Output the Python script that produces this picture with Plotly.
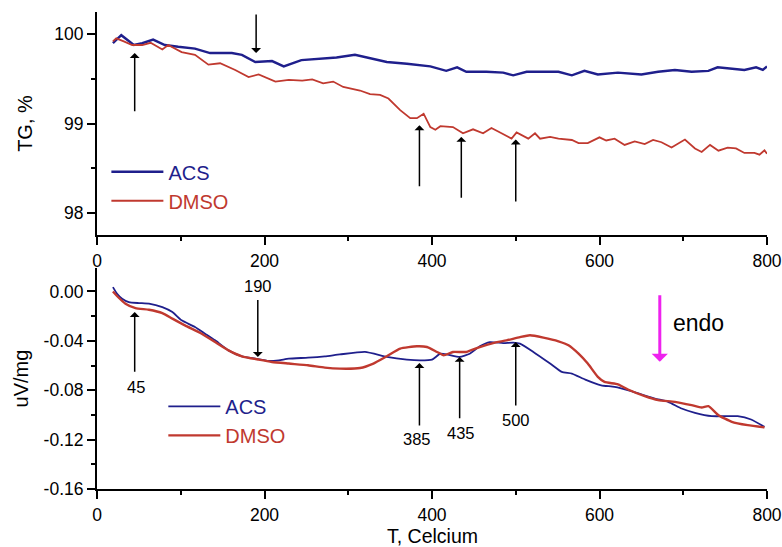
import plotly.graph_objects as go

# ---------------- data ----------------
# Top panel: TG, %
T_TG_ACS = [19, 29, 44, 54, 67, 81, 97, 117, 135, 161, 173, 189, 209, 223, 244, 268,
            286, 308, 326, 346, 370, 398, 417, 430, 441, 465, 485, 497, 513, 534,
            551, 567, 582, 598, 622, 650, 670, 690, 710, 730, 741, 773, 787, 795, 800]
TG_ACS = [99.90, 99.99, 99.88, 99.90, 99.94, 99.88, 99.86, 99.84, 99.79, 99.79, 99.77, 99.69, 99.70, 99.64, 99.71, 99.73,
          99.74, 99.77, 99.73, 99.69, 99.67, 99.64, 99.59, 99.63, 99.58, 99.58, 99.57, 99.54, 99.58, 99.58,
          99.58, 99.54, 99.59, 99.55, 99.57, 99.55, 99.58, 99.60, 99.58, 99.59, 99.63, 99.60, 99.63, 99.60, 99.64]

T_TG_DMSO = [19, 23, 32, 42, 54, 64, 78, 85, 101, 117, 133, 147, 165, 181, 193, 213, 229, 245, 257, 270,
             282, 294, 314, 326, 338, 348, 362, 374, 382, 390, 398, 404, 410, 425, 437, 449, 461, 471, 483,
             495, 501, 515, 523, 529, 541, 551, 567, 575, 586, 600, 608, 618, 630, 642, 654, 664, 674, 686,
             702, 714, 722, 732, 742, 753, 763, 773, 785, 791, 797, 800]
TG_DMSO = [99.92, 99.955, 99.92, 99.88, 99.88, 99.905, 99.83, 99.88, 99.80, 99.77, 99.66, 99.675, 99.60, 99.52, 99.55, 99.47, 99.49, 99.48, 99.495, 99.45,
           99.47, 99.41, 99.37, 99.33, 99.32, 99.28, 99.15, 99.06, 99.06, 99.11, 98.96, 98.93, 98.97, 98.96, 98.89, 98.935, 98.89, 98.95, 98.89,
           98.83, 98.90, 98.83, 98.89, 98.83, 98.85, 98.83, 98.815, 98.78, 98.78, 98.845, 98.81, 98.83, 98.76, 98.80, 98.77, 98.815, 98.79, 98.73,
           98.82, 98.72, 98.68, 98.76, 98.695, 98.73, 98.72, 98.67, 98.67, 98.65, 98.70, 98.66]

# Bottom panel: DTA, uV/mg
T_DTA_ACS = [19, 24, 30, 38, 50, 62, 78, 90, 101, 117, 129, 141, 157, 173, 189, 205, 217, 229, 252, 272,
             290, 320, 346, 370, 386, 400, 410, 419, 433, 445, 457, 469, 485, 497, 505, 521, 541,
             555, 567, 583, 602, 618, 638, 666, 682, 698, 714, 734, 753, 765, 781, 797]
DTA_ACS = [0.0035, -0.0019, -0.0059, -0.0086, -0.0094, -0.0099, -0.0127, -0.0167, -0.0234, -0.0288, -0.0342, -0.0396, -0.0477, -0.0525, -0.0544, -0.0563, -0.0558, -0.0544, -0.0536, -0.0525,
           -0.051, -0.049, -0.053, -0.0552, -0.0558, -0.0552, -0.0504, -0.0512, -0.053, -0.0504, -0.0444, -0.041, -0.0418, -0.0415, -0.0423, -0.049, -0.0584,
           -0.0652, -0.0665, -0.0714, -0.076, -0.0773, -0.0808, -0.0867, -0.0894, -0.0948, -0.0983, -0.101, -0.101, -0.101, -0.1037, -0.1097]

T_DTA_DMSO = [19, 26, 34, 46, 62, 78, 90, 105, 125, 141, 157, 173, 193, 209, 229, 252, 272, 290, 314, 330,
              346, 362, 382, 394, 406, 414, 425, 441, 457, 473, 489, 505, 517, 533, 551, 563, 575, 586,
              598, 606, 622, 634, 654, 670, 690, 710, 722, 730, 742, 758, 777, 797]
DTA_DMSO = [0.0, -0.0051, -0.0099, -0.0135, -0.0148, -0.0175, -0.022, -0.0275, -0.0342, -0.041, -0.0477, -0.0525, -0.0552, -0.0571, -0.0584, -0.0598, -0.0617, -0.0625, -0.062, -0.0584,
            -0.0525, -0.0463, -0.0444, -0.045, -0.049, -0.0517, -0.049, -0.049, -0.045, -0.0418, -0.0396, -0.037, -0.0355, -0.0374, -0.0404, -0.0436, -0.0504, -0.0584,
            -0.0692, -0.0733, -0.0752, -0.0794, -0.0848, -0.088, -0.0894, -0.0921, -0.094, -0.0929, -0.1002, -0.1056, -0.1083, -0.1101]

X_TICKS = [0, 200, 400, 600, 800]
TG_TICKS = [98, 99, 100]
DTA_TICKS = [0.00, -0.04, -0.08, -0.12, -0.16]

# arrow marks (temperature, head y, tail y)
TG_ARROWS = [(45, 99.79, 99.12), (190, 99.79, 100.24), (385, 98.98, 98.28), (435, 98.85, 98.15), (500, 98.82, 98.11)]
DTA_ARROWS = [(45, -0.0167, -0.0663), (192, -0.053, -0.0057), (385, -0.058, -0.1097), (433, -0.053, -0.104), (500, -0.041, -0.0935)]
DTA_LABELS = [("45", 46, -0.0775), ("190", 192, 0.0045), ("385", 382, -0.1196), ("435", 435, -0.1147), ("500", 500, -0.104)]

BLUE = "#1f1f8c"
RED = "#c0392f"
FONT = "Liberation Sans, Arial, sans-serif"

fig = go.Figure()
fig.add_trace(go.Scatter(x=T_TG_ACS, y=TG_ACS, mode="lines", line=dict(color=BLUE, width=2.4),
                         name=f"<span style='color:{BLUE}'>ACS</span>", xaxis="x", yaxis="y", legend="legend"))
fig.add_trace(go.Scatter(x=T_TG_DMSO, y=TG_DMSO, mode="lines", line=dict(color=RED, width=1.8),
                         name=f"<span style='color:{RED}'>DMSO</span>", xaxis="x", yaxis="y", legend="legend"))
fig.add_trace(go.Scatter(x=T_DTA_ACS, y=DTA_ACS, mode="lines", line=dict(color=BLUE, width=1.8, shape="spline", smoothing=0.5),
                         name=f"<span style='color:{BLUE}'>ACS</span>", xaxis="x2", yaxis="y2", legend="legend2"))
fig.add_trace(go.Scatter(x=T_DTA_DMSO, y=DTA_DMSO, mode="lines", line=dict(color=RED, width=2.4, shape="spline", smoothing=0.5),
                         name=f"<span style='color:{RED}'>DMSO</span>", xaxis="x2", yaxis="y2", legend="legend2"))

axis_common = dict(showline=True, linecolor="black", linewidth=2, ticks="outside", ticklen=8, tickwidth=1.8,
                   tickcolor="black", showgrid=False, zeroline=False, mirror=False, automargin=False,
                   tickfont=dict(family=FONT, size=17.5, color="black"))

annotations = []
for t, yh, yt in TG_ARROWS:
    annotations.append(dict(x=t, y=yh, ax=t, ay=yt, xref="x", yref="y", axref="x", ayref="y", text="",
                            showarrow=True, arrowhead=1, arrowsize=1.1, arrowwidth=1.5, arrowcolor="black", standoff=0))
for t, yh, yt in DTA_ARROWS:
    annotations.append(dict(x=t, y=yh, ax=t, ay=yt, xref="x2", yref="y2", axref="x2", ayref="y2", text="",
                            showarrow=True, arrowhead=1, arrowsize=1.1, arrowwidth=1.5, arrowcolor="black", standoff=0))
for txt, t, y in DTA_LABELS:
    annotations.append(dict(x=t, y=y, xref="x2", yref="y2", text=txt, showarrow=False,
                            font=dict(family=FONT, size=16.5, color="black")))
annotations.append(dict(x=672, y=-0.057, ax=672, ay=-0.0019, xref="x2", yref="y2", axref="x2", ayref="y2", text="",
                        showarrow=True, arrowhead=1, arrowsize=0.9, arrowwidth=3, arrowcolor="#ee22ee", standoff=0))
annotations.append(dict(x=685, y=-0.0256, xref="x2", yref="y2", text="endo", showarrow=False, xanchor="left",
                        font=dict(family=FONT, size=23, color="black")))
# x-axis title of the lower panel
annotations.append(dict(x=0.5, y=-0.098, xref="paper", yref="paper", text="T, Celcium", showarrow=False,
                        xanchor="center", yanchor="middle", font=dict(family=FONT, size=19.5, color="black")))

fig.update_layout(
    width=782, height=547,
    margin=dict(l=97, r=15, t=12, b=58),
    paper_bgcolor="white", plot_bgcolor="white",
    font=dict(family=FONT, color="black"),
    xaxis=dict(**axis_common, domain=[0, 1], range=[0, 800], tickvals=X_TICKS, anchor="y", ticklabelstandoff=1,
               minor=dict(dtick=100, ticks="outside", ticklen=4, tickwidth=1.5, tickcolor="black")),
    yaxis=dict(**axis_common, domain=[0.5325, 1.0], range=[97.75, 100.25], tickvals=TG_TICKS, anchor="x",
               title=dict(text="TG, %", font=dict(family=FONT, size=20), standoff=16),
               minor=dict(dtick=0.5, ticks="outside", ticklen=4, tickwidth=1.5, tickcolor="black")),
    xaxis2=dict(**axis_common, domain=[0, 1], range=[0, 800], tickvals=X_TICKS, anchor="y2", ticklabelstandoff=1,
                minor=dict(dtick=100, ticks="outside", ticklen=4, tickwidth=1.5, tickcolor="black")),
    yaxis2=dict(**axis_common, domain=[0, 0.4633], range=[-0.16, 0.019], tickvals=DTA_TICKS,
                ticktext=[f"{v:.2f}" for v in DTA_TICKS], anchor="x2",
                title=dict(text="uV/mg", font=dict(family=FONT, size=20), standoff=10),
                minor=dict(dtick=0.02, ticks="outside", ticklen=4, tickwidth=1.5, tickcolor="black")),
    legend=dict(x=0.014, y=0.706, xanchor="left", yanchor="top", bgcolor="rgba(0,0,0,0)",
                font=dict(family=FONT, size=20), itemwidth=52, tracegroupgap=0),
    legend2=dict(x=0.099, y=0.214, xanchor="left", yanchor="top", bgcolor="rgba(0,0,0,0)",
                 font=dict(family=FONT, size=20), itemwidth=52, tracegroupgap=0),
    annotations=annotations,
    showlegend=True,
)

fig.write_html("out.html")
